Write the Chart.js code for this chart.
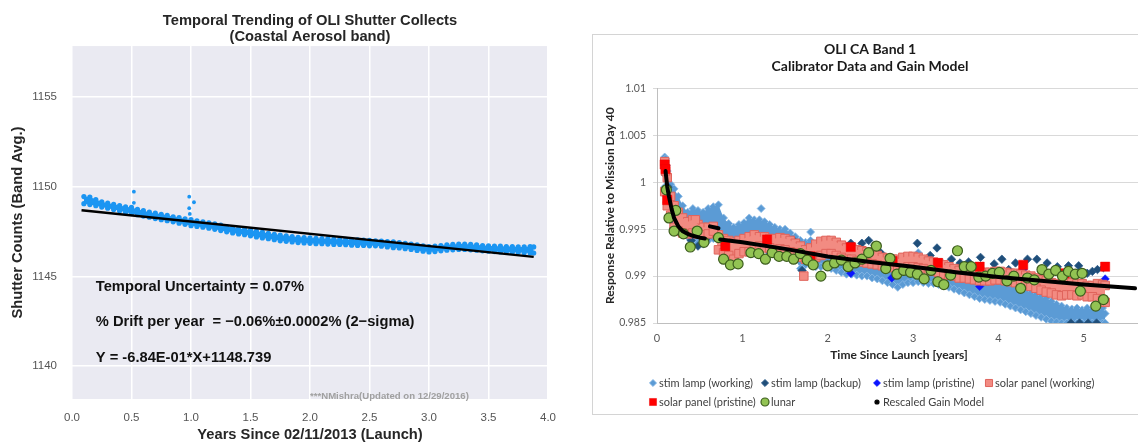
<!DOCTYPE html>
<html>
<head>
<meta charset="utf-8">
<script src="https://cdn.jsdelivr.net/npm/chart.js@4.4.1/dist/chart.umd.min.js"></script>
<style>
  body { margin: 0; width: 1138px; height: 445px; overflow: hidden; background: #fff; position: relative; }
  #left { position: absolute; left: 0; top: 0; }
  #right { position: absolute; left: 592px; top: 34px; }
</style>
</head>
<body>
<canvas id="left" width="620" height="445"></canvas>
<canvas id="right" width="556" height="381"></canvas>
<script>
// ---------- left panel : shutter collects ----------
const shutterX = [0.10,0.15,0.20,0.25,0.30,0.35,0.40,0.45,0.50,0.55,0.60,0.65,0.70,0.75,0.80,0.85,0.90,0.95,1.00,1.05,
  1.10,1.15,1.20,1.25,1.30,1.35,1.40,1.45,1.50,1.55,1.60,1.65,1.70,1.75,1.80,1.85,1.90,1.95,2.00,2.05,
  2.10,2.15,2.20,2.25,2.30,2.35,2.40,2.45,2.50,2.55,2.60,2.65,2.70,2.75,2.80,2.85,2.90,2.95,3.00,3.05,
  3.10,3.15,3.20,3.25,3.30,3.35,3.40,3.45,3.50,3.55,3.60,3.65,3.70,3.75,3.80,3.85,3.88];
const shutterHi = [1149.45,1149.42,1149.28,1149.16,1149.08,1149.02,1148.95,1148.88,1148.84,1148.74,1148.66,1148.58,1148.52,1148.46,1148.40,1148.32,1148.28,1148.20,1148.16,1148.10,
  1148.04,1147.98,1147.92,1147.86,1147.78,1147.72,1147.66,1147.62,1147.58,1147.52,1147.46,1147.40,1147.34,1147.30,1147.26,1147.22,1147.18,1147.16,1147.14,1147.12,
  1147.10,1147.10,1147.08,1147.06,1147.06,1147.04,1147.04,1147.02,1147.00,1146.98,1146.96,1146.94,1146.92,1146.88,1146.84,1146.80,1146.76,1146.70,1146.66,1146.68,
  1146.72,1146.76,1146.78,1146.80,1146.80,1146.78,1146.76,1146.72,1146.70,1146.68,1146.68,1146.66,1146.66,1146.64,1146.64,1146.66,1146.64];
const shutterLo = [1149.05,1149.00,1148.94,1148.86,1148.80,1148.72,1148.66,1148.58,1148.50,1148.44,1148.36,1148.30,1148.22,1148.16,1148.10,1148.04,1147.96,1147.90,1147.82,1147.78,
  1147.74,1147.68,1147.62,1147.55,1147.48,1147.42,1147.36,1147.32,1147.26,1147.20,1147.14,1147.10,1147.04,1146.98,1146.95,1146.92,1146.88,1146.86,1146.84,1146.82,
  1146.82,1146.80,1146.78,1146.78,1146.76,1146.74,1146.72,1146.72,1146.70,1146.70,1146.68,1146.64,1146.60,1146.58,1146.54,1146.50,1146.44,1146.40,1146.36,1146.38,
  1146.42,1146.46,1146.48,1146.50,1146.50,1146.48,1146.46,1146.42,1146.40,1146.38,1146.36,1146.36,1146.34,1146.34,1146.32,1146.30,1146.30];
const shutterOutX = [0.52,0.52,0.985,0.985,0.99,1.025];
const shutterOutY = [1149.72,1149.10,1149.44,1148.80,1148.48,1149.13];
const fitX = [0.08, 3.88];
const fitY = [1148.684, 1146.085];   // Y = -6.84E-01*X + 1148.739
const leftTicksX = [0, 4, 0.5];      // min, max, step
const leftTicksY = [1138.16, 1157.84, 5];
const noteLines = ['Temporal Uncertainty = 0.07%', '% Drift per year  = \u22120.06%\u00b10.0002% (2\u2212sigma)', 'Y = -6.84E-01*X+1148.739'];
const creditText = '***NMishra(Updated on 12/29/2016)';

// ---------- right panel : calibrator data ----------
const seriesNames = ['stim lamp (working)', 'stim lamp (backup)', 'stim lamp (pristine)', 'solar panel (working)',
  'solar panel (pristine)', 'lunar', 'Rescaled Gain Model'];
const calX = [0.09,0.12,0.16,0.20,0.25,0.30,0.36,0.42,0.48,0.54,
  0.60,0.66,0.72,0.78,0.84,0.90,0.96,1.02,1.08,1.14,
  1.20,1.26,1.32,1.38,1.44,1.50,1.56,1.62,1.68,1.74,
  1.80,1.86,1.92,1.98,2.04,2.10,2.16,2.22,2.28,2.34,
  2.40,2.46,2.52,2.58,2.64,2.70,2.76,2.82,2.88,2.94,
  3.00,3.06,3.12,3.18,3.24,3.30,3.36,3.42,3.48,3.54,
  3.60,3.66,3.72,3.78,3.84,3.90,3.96,4.02,4.08,4.14,
  4.20,4.26,4.32,4.38,4.44,4.50,4.56,4.62,4.68,4.74,
  4.80,4.86,4.92,4.98,5.04,5.10,5.16,5.22,5.25];
const stimHi = [1.0027,1.0012,0.9998,0.9993,0.9985,0.9975,0.9968,0.9972,0.9970,0.9968,
  0.9972,0.9974,0.9976,0.9962,0.9956,0.9952,0.9955,0.9957,0.9962,0.9960,
  0.9960,0.9958,0.9955,0.9952,0.9950,0.9950,0.9946,0.9942,0.9938,0.9936,
  0.9938,0.9934,0.9932,0.9932,0.9930,0.9928,0.9926,0.9924,0.9924,0.9922,
  0.9923,0.9920,0.9918,0.9916,0.9914,0.9912,0.9910,0.9910,0.9912,0.9914,
  0.9918,0.9925,0.9915,0.9912,0.9910,0.9908,0.9906,0.9905,0.9902,0.9900,
  0.9898,0.9898,0.9896,0.9894,0.9892,0.9895,0.9897,0.9895,0.9892,0.9890,
  0.9888,0.9886,0.9884,0.9882,0.9880,0.9878,0.9876,0.9873,0.9870,0.9868,
  0.9866,0.9865,0.9866,0.9864,0.9866,0.9864,0.9862,0.9866,0.9860];
const stimLo = [0.9995,0.9985,0.9975,0.9962,0.9952,0.9946,0.9942,0.9938,0.9935,0.9934,
  0.9938,0.9940,0.9940,0.9936,0.9934,0.9933,0.9934,0.9935,0.9934,0.9933,
  0.9932,0.9931,0.9930,0.9928,0.9926,0.9924,0.9922,0.9918,0.9908,0.9912,
  0.9912,0.9910,0.9910,0.9910,0.9908,0.9906,0.9904,0.9902,0.9902,0.9901,
  0.9900,0.9900,0.9898,0.9897,0.9895,0.9893,0.9891,0.9888,0.9891,0.9893,
  0.9893,0.9894,0.9893,0.9892,0.9892,0.9891,0.9890,0.9888,0.9886,0.9884,
  0.9882,0.9880,0.9878,0.9876,0.9875,0.9874,0.9873,0.9872,0.9870,0.9868,
  0.9866,0.9864,0.9862,0.9860,0.9858,0.9856,0.9854,0.9852,0.9851,0.9850,
  0.9850,0.9850,0.9850,0.9850,0.9850,0.9850,0.9850,0.9850,0.9850];
const stimExtraX = [0.10,0.11,1.22,1.80];
const stimExtraY = [1.0025,1.0018,0.9972,0.9947];
const solarHi = [1.0022,1.0005,0.9985,0.9975,0.9968,0.9962,0.9958,0.9960,0.9955,0.9952,
  0.9952,0.9953,0.9944,0.9940,0.9938,0.9936,0.9938,0.9940,0.9942,0.9944,
  0.9942,0.9942,0.9940,0.9940,0.9941,0.9940,0.9938,0.9935,0.9932,0.9928,
  0.9930,0.9934,0.9937,0.9938,0.9938,0.9936,0.9933,0.9930,0.9930,0.9928,
  0.9927,0.9926,0.9925,0.9922,0.9920,0.9919,0.9918,0.9918,0.9920,0.9921,
  0.9921,0.9920,0.9918,0.9916,0.9915,0.9914,0.9912,0.9910,0.9908,0.9906,
  0.9905,0.9906,0.9906,0.9905,0.9904,0.9904,0.9905,0.9905,0.9904,0.9903,
  0.9903,0.9902,0.9901,0.9900,0.9898,0.9896,0.9895,0.9893,0.9892,0.9890,
  0.9894,0.9893,0.9892,0.9892,0.9890,0.9890,0.9892,0.9891,0.9890];
const solarLo = [0.9990,0.9975,0.9965,0.9952,0.9948,0.9946,0.9945,0.9946,0.9945,0.9944,
  0.9945,0.9948,0.9928,0.9925,0.9922,0.9918,0.9924,0.9926,0.9926,0.9930,
  0.9932,0.9930,0.9930,0.9928,0.9929,0.9928,0.9926,0.9925,0.9920,0.9918,
  0.9918,0.9920,0.9922,0.9924,0.9924,0.9922,0.9920,0.9918,0.9918,0.9916,
  0.9915,0.9914,0.9913,0.9912,0.9911,0.9910,0.9909,0.9908,0.9908,0.9910,
  0.9910,0.9909,0.9908,0.9906,0.9905,0.9904,0.9902,0.9901,0.9900,0.9898,
  0.9898,0.9897,0.9896,0.9895,0.9895,0.9895,0.9896,0.9896,0.9895,0.9894,
  0.9893,0.9892,0.9890,0.9889,0.9887,0.9885,0.9883,0.9882,0.9880,0.9879,
  0.9880,0.9880,0.9879,0.9880,0.9878,0.9878,0.9876,0.9874,0.9872];
const solarExtraX = [0.10,0.12,0.45,0.90,1.72];
const solarExtraY = [1.0012,0.9982,0.9960,0.9916,0.9900];
const backupX = [0.10,0.13,0.20,0.28,0.40,0.48,0.58,0.70,0.85,1.00,
  1.30,1.45,1.60,1.70,1.85,2.27,2.40,2.48,2.55,2.62,
  2.95,3.05,3.20,3.28,3.45,3.55,3.65,3.79,3.95,4.04,
  4.12,4.20,4.34,4.45,4.57,4.69,4.82,4.94,5.04,5.10,
  5.16,5.23,4.85,4.95,5.05,5.15];
const backupY = [1.0008,0.9995,0.9952,0.9946,0.9938,0.9932,0.9940,0.9942,0.9926,0.9930,
  0.9935,0.9930,0.9938,0.9906,0.9925,0.9935,0.9935,0.9938,0.9933,0.9925,
  0.9920,0.9935,0.9922,0.9930,0.9918,0.9914,0.9915,0.9920,0.9913,0.9918,
  0.9907,0.9914,0.9918,0.9918,0.9914,0.9910,0.9911,0.9911,0.9903,0.9905,
  0.9907,0.9909,0.9850,0.9850,0.9850,0.9850];
const pristineX = [0.20,0.32,1.29,2.27,2.75,3.30,3.78,4.29,4.78,5.25];
const pristineY = [0.9956,0.9945,0.9928,0.9903,0.9898,0.9901,0.9889,0.9907,0.9893,0.9897];
const solarPrX = [0.09,0.10,0.12,0.80,1.29,1.80,2.27,2.76,3.29,3.78,4.29,4.77,5.25];
const solarPrY = [1.0019,1.0014,0.9981,0.9932,0.9939,0.9921,0.9931,0.9916,0.9914,0.9910,0.9912,0.9903,0.9910];
const lunarX = [0.11,0.14,0.22,0.20,0.31,0.39,0.47,0.55,0.72,0.78,0.86,
  0.95,1.10,1.19,1.27,1.35,1.43,1.52,1.60,1.68,1.76,
  1.83,1.92,2.00,2.08,2.16,2.24,2.32,2.40,2.48,2.57,
  2.68,2.73,2.81,2.89,2.97,3.05,3.13,3.21,3.29,3.36,
  3.44,3.52,3.60,3.68,3.77,3.85,3.93,4.01,4.10,4.18,
  4.26,4.34,4.42,4.51,4.59,4.67,4.75,4.82,4.90,4.98,
  4.96,5.14,5.23];
const lunarY = [0.9992,0.9962,0.9970,0.9948,0.9945,0.9931,0.9948,0.9936,0.9941,0.9918,0.9912,
  0.9913,0.9925,0.9924,0.9918,0.9925,0.9921,0.9921,0.9918,0.9924,0.9917,
  0.9912,0.9900,0.9911,0.9914,0.9917,0.9910,0.9914,0.9918,0.9925,0.9932,
  0.9908,0.9919,0.9902,0.9906,0.9904,0.9902,0.9897,0.9906,0.9894,0.9891,
  0.9901,0.9927,0.9910,0.9910,0.9899,0.9900,0.9903,0.9904,0.9895,0.9900,
  0.9887,0.9898,0.9896,0.9907,0.9902,0.9906,0.9900,0.9905,0.9902,0.9903,
  0.9884,0.9868,0.9875];
const gainX = [0.10,0.12,0.14,0.17,0.20,0.25,0.30,0.36,0.42,0.50,
  0.56,0.59,0.62,0.72,0.73,0.74,1.00,1.50,2.00,2.50,
  3.00,3.50,4.00,4.50,5.00,5.60];
const gainY = [1.0012,0.9995,0.9985,0.9972,0.9962,0.9953,0.9948,0.9945,0.9943,0.9941,
  0.9940,null,0.9953,0.9951,null,0.9939,0.9936,0.9929,0.9921,0.9915,
  0.9910,0.9904,0.9899,0.9895,0.9891,0.9887];

const pts = (xs, ys) => xs.map((x, i) => ({ x: x, y: ys[i] }));

// ====================== LEFT CHART ======================
const leftFont = '"Liberation Sans", Arial, sans-serif';
const shutterBlue = '#1b95f2';

const leftBg = {
  id: 'leftBg',
  beforeDraw(chart) {
    const { ctx, chartArea: a } = chart;
    ctx.save();
    ctx.fillStyle = '#eaeaf2';
    ctx.fillRect(a.left, a.top, a.right - a.left, a.bottom - a.top);
    ctx.restore();
  }
};

const leftNotes = {
  id: 'leftNotes',
  afterDatasetsDraw(chart) {
    const { ctx, scales: { x, y } } = chart;
    ctx.save();
    ctx.textBaseline = 'middle';
    ctx.fillStyle = '#111';
    ctx.font = 'bold 14.7px ' + leftFont;
    const noteY = [1144.41, 1142.45, 1140.45];
    noteLines.forEach((t, i) => ctx.fillText(t, x.getPixelForValue(0.2), y.getPixelForValue(noteY[i])));
    ctx.fillStyle = '#a0a0a0';
    ctx.font = 'bold 9.6px ' + leftFont;
    ctx.fillText(creditText, x.getPixelForValue(2.0), y.getPixelForValue(1138.33));
    ctx.restore();
  }
};

new Chart(document.getElementById('left'), {
  type: 'line',
  data: {
    datasets: [
      { label: 'fit', data: pts(fitX, fitY), borderColor: '#000', borderWidth: 2.5, pointRadius: 0, order: 1 },
      { label: 'hi', data: pts(shutterX, shutterHi), borderWidth: 0, borderColor: 'rgba(0,0,0,0)',
        pointRadius: 2.6, pointBackgroundColor: shutterBlue, pointBorderWidth: 0, fill: false, order: 3 },
      { label: 'lo', data: pts(shutterX, shutterLo), borderWidth: 0, borderColor: 'rgba(0,0,0,0)',
        backgroundColor: shutterBlue, fill: '-1',
        pointRadius: 2.6, pointBackgroundColor: shutterBlue, pointBorderWidth: 0, order: 2 },
      { label: 'out', data: pts(shutterOutX, shutterOutY), showLine: false,
        pointRadius: 1.9, pointBackgroundColor: shutterBlue, pointBorderWidth: 0, order: 2 }
    ]
  },
  options: {
    responsive: false,
    animation: false,
    layout: { padding: { left: 0, right: 72, top: 0, bottom: 0 } },
    plugins: {
      legend: { display: false },
      tooltip: { enabled: false },
      title: {
        display: true,
        fullSize: false,
        text: ['Temporal Trending of OLI Shutter Collects', '(Coastal Aerosol band)'],
        color: '#262626',
        font: { family: leftFont, size: 14.7, weight: 'bold', lineHeight: 1.05 },
        padding: { top: 13.3, bottom: 1.9 }
      }
    },
    scales: {
      x: {
        type: 'linear', min: leftTicksX[0], max: leftTicksX[1],
        ticks: { stepSize: leftTicksX[2], callback: v => v.toFixed(1), color: '#555', padding: 12,
          font: { family: leftFont, size: 11.5 } },
        grid: { color: '#ffffff', lineWidth: 1.5, drawTicks: false },
        border: { display: false },
        title: { display: true, text: 'Years Since 02/11/2013 (Launch)', color: '#262626',
          font: { family: leftFont, size: 14.7, weight: 'bold' }, padding: { top: 0, bottom: 1.5 } },
        afterFit(s) { s.height = 46; }
      },
      y: {
        type: 'linear', min: leftTicksY[0], max: leftTicksY[1],
        ticks: { stepSize: leftTicksY[2], includeBounds: false, callback: v => String(v), color: '#555', padding: 15,
          font: { family: leftFont, size: 11.5 } },
        grid: { color: '#ffffff', lineWidth: 1.5, drawTicks: false },
        border: { display: false },
        title: { display: true, text: 'Shutter Counts (Band Avg.)', color: '#262626',
          font: { family: leftFont, size: 14.7, weight: 'bold' }, padding: { top: 9.2, bottom: 0 } },
        afterFit(s) { s.width = 72; }
      }
    }
  },
  plugins: [leftBg, leftNotes]
});

// ====================== RIGHT CHART ======================
const rightFont = 'Lato, "Open Sans", sans-serif';
const stimLight = '#5b9bd5';
const salmon = '#f28b82';

const styles = {
  stimWork: { pointStyle: 'rectRot', pointRadius: 4, pointBackgroundColor: stimLight, pointBorderColor: '#8dbbe6', pointBorderWidth: 0.8 },
  backup: { pointStyle: 'rectRot', pointRadius: 4.2, pointBackgroundColor: '#1f4e79', pointBorderColor: '#2d5d8c', pointBorderWidth: 0.8 },
  pristine: { pointStyle: 'rectRot', pointRadius: 4.2, pointBackgroundColor: '#0a14ff', pointBorderColor: '#0a14ff', pointBorderWidth: 0.5 },
  solarWork: { pointStyle: 'rect', pointRadius: 6, pointBackgroundColor: salmon, pointBorderColor: '#e0645c', pointBorderWidth: 1 },
  solarPr: { pointStyle: 'rect', pointRadius: 6.5, pointBackgroundColor: '#ff0000', pointBorderColor: '#ee0000', pointBorderWidth: 0.5 },
  lunar: { pointStyle: 'circle', pointRadius: 5, pointBackgroundColor: '#92c353', pointBorderColor: '#3d5e1e', pointBorderWidth: 1.2 }
};
const hidden = { borderWidth: 0, borderColor: 'rgba(0,0,0,0)' };

const rightDatasets = [
  Object.assign({ label: 'stimHi', data: pts(calX, stimHi), fill: false, order: 10 }, hidden, styles.stimWork),
  Object.assign({ label: 'stimLo', data: pts(calX, stimLo), fill: 0, backgroundColor: stimLight, order: 9 }, hidden, styles.stimWork),
  Object.assign({ label: seriesNames[0], data: pts(stimExtraX, stimExtraY), showLine: false, order: 9 }, styles.stimWork),
  Object.assign({ label: seriesNames[1], data: pts(backupX, backupY), showLine: false, order: 7 }, styles.backup),
  Object.assign({ label: seriesNames[2], data: pts(pristineX, pristineY), showLine: false, order: 6 }, styles.pristine),
  Object.assign({ label: 'solarHi', data: pts(calX, solarHi), fill: false, order: 5 }, hidden, styles.solarWork),
  Object.assign({ label: 'solarLo', data: pts(calX, solarLo), fill: 5, backgroundColor: salmon, order: 4 }, hidden, styles.solarWork),
  Object.assign({ label: seriesNames[3], data: pts(solarExtraX, solarExtraY), showLine: false, order: 4 }, styles.solarWork),
  Object.assign({ label: seriesNames[4], data: pts(solarPrX, solarPrY), showLine: false, order: 3 }, styles.solarPr),
  Object.assign({ label: seriesNames[5], data: pts(lunarX, lunarY), showLine: false, order: 2 }, styles.lunar),
  { label: seriesNames[6], data: pts(gainX, gainY), borderColor: '#000', borderWidth: 4, borderCapStyle: 'round',
    pointRadius: 0, pointStyle: 'circle', pointBackgroundColor: '#000', pointBorderColor: '#000',
    spanGaps: false, fill: false, order: 1 }
];

const gridLegend = {
  id: 'gridLegend',
  afterDraw(chart) {
    const ctx = chart.ctx;
    const cols = [61, 173, 285, 397];
    const rows = [349, 368];
    const slots = [[0, 0], [0, 1], [0, 2], [0, 3], [1, 0], [1, 1], [1, 2]];
    const sizes = { rectRot: 3.6, rect: 5, circle: 4 };
    ctx.save();
    ctx.font = '11px ' + rightFont;
    ctx.textBaseline = 'middle';
    seriesNames.forEach((name, k) => {
      const ds = chart.data.datasets.find(d => d.label === name);
      const mx = cols[slots[k][1]], my = rows[slots[k][0]];
      ctx.fillStyle = ds.pointBackgroundColor;
      ctx.strokeStyle = ds.pointBorderColor;
      ctx.lineWidth = ds.pointBorderWidth || 0;
      const r = name === seriesNames[6] ? 2 : sizes[ds.pointStyle];
      Chart.helpers.drawPoint(ctx, { pointStyle: ds.pointStyle, radius: r, rotation: 0, borderWidth: ctx.lineWidth }, mx, my);
      ctx.fillStyle = '#404040';
      ctx.fillText(name, mx + 6, my + 0.5);
    });
    // chart border box
    ctx.strokeStyle = '#d4d4d4';
    ctx.lineWidth = 1;
    ctx.strokeRect(0.5, 0.5, chart.width - 1, chart.height - 1);
    ctx.restore();
  }
};

new Chart(document.getElementById('right'), {
  type: 'line',
  data: { datasets: rightDatasets },
  options: {
    responsive: false,
    animation: false,
    layout: { padding: { left: 0, right: 0, top: 0, bottom: 52 } },
    plugins: {
      legend: { display: false },
      tooltip: { enabled: false },
      title: {
        display: true,
        text: ['OLI CA Band 1', 'Calibrator Data and Gain Model'],
        color: '#1a1a1a',
        font: { family: rightFont, size: 14, weight: 'bold', lineHeight: 1.25 },
        padding: { top: 6.5, bottom: 13 }
      }
    },
    scales: {
      x: {
        type: 'linear', min: 0, max: 5.67,
        ticks: { stepSize: 1, includeBounds: false, color: '#595959', padding: 9,
          font: { family: rightFont, size: 11 } },
        grid: { display: false, drawTicks: false },
        border: { display: true, color: '#bfbfbf' },
        title: { display: true, text: 'Time Since Launch [years]', color: '#262626',
          font: { family: rightFont, size: 12, weight: 'bold' }, padding: { top: 0, bottom: 1 } },
        afterFit(s) { s.height = 40; }
      },
      y: {
        type: 'linear', min: 0.985, max: 1.01,
        ticks: { stepSize: 0.005, includeBounds: false, color: '#595959', padding: 7,
          callback: v => String(+v.toFixed(3)), font: { family: rightFont, size: 10.5 } },
        grid: { color: '#d9d9d9', tickLength: 4 },
        border: { display: true, color: '#bfbfbf' },
        title: { display: true, text: 'Response Relative to Mission Day 40', color: '#262626',
          font: { family: rightFont, size: 12, weight: 'bold' }, padding: { top: 10.8, bottom: 0 } },
        afterFit(s) { s.width = 65; }
      }
    }
  },
  plugins: [gridLegend]
});
</script>
</body>
</html>
